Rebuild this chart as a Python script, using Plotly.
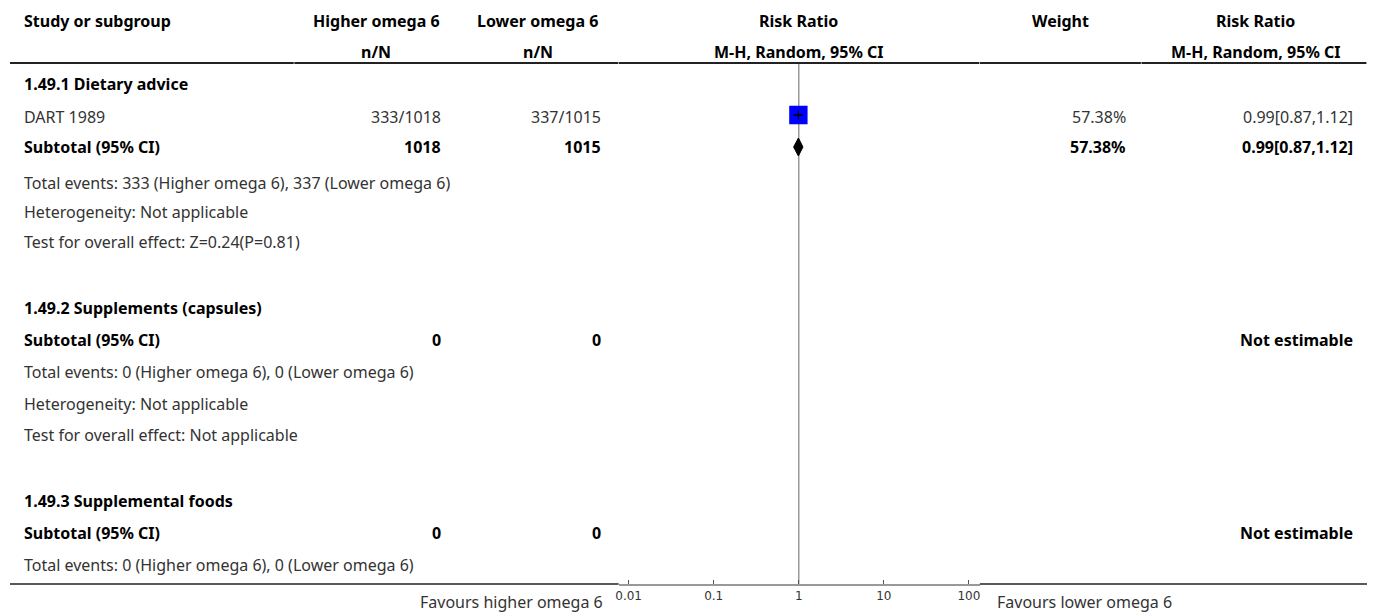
import plotly.graph_objects as go

# ---------------- data ----------------
groups = ["1.49.1 Dietary advice", "1.49.2 Supplements (capsules)", "1.49.3 Supplemental foods"]
study_names = ["DART 1989"]
study_group = [0]
exp_events = [333]
exp_total = [1018]
ctl_events = [337]
ctl_total = [1015]
study_weight = [57.38]
study_rr = [0.99]
study_lo = [0.87]
study_hi = [1.12]

sub_exp_total = [1018, 0, 0]
sub_ctl_total = [1015, 0, 0]
sub_exp_events = [333, 0, 0]
sub_ctl_events = [337, 0, 0]
sub_weight = [57.38, None, None]
sub_rr = [0.99, None, None]
sub_lo = [0.87, None, None]
sub_hi = [1.12, None, None]
heterogeneity = ["Not applicable", "Not applicable", None]
overall_effect = ["Z=0.24(P=0.81)", "Not applicable", None]

tick_vals = [0.01, 0.1, 1, 10, 100]
tick_text = ["0.01", "0.1", "1", "10", "100"]
exp_label = "Higher omega 6"
ctl_label = "Lower omega 6"
favours_left = "Favours higher omega 6"
favours_right = "Favours lower omega 6"

# ---------------- layout constants ----------------
W, H = 1375, 612
FONT = "Noto Sans, sans-serif"
FS = 16
REG = "#333333"
BOLD = "#000000"
row_y = [84, 117, 147, 183, 212, 242, 308, 340, 372, 404, 435, 501, 533, 565]
header_y1, header_y2, header_line = 21, 52, 63
bottom_line = 584
x_study = 20
x_exp_val, x_exp_head = 440, 374
x_ctl_val, x_ctl_head = 600, 536
x_rr_head = 797
x_w_val, x_w_head = 1126, 1060
x_ci_val, x_ci_head = 1354, 1255
plot_l, plot_r = 617, 979
line_l, line_r = 7, 1367
dec_px = 85.25

# build rows
rows = []
for g, gname in enumerate(groups):
    rows.append(("group", g, None))
    for i, sg in enumerate(study_group):
        if sg == g:
            rows.append(("study", g, i))
    rows.append(("subtotal", g, None))
    rows.append(("events", g, None))
    if heterogeneity[g] is not None:
        rows.append(("het", g, None))
    if overall_effect[g] is not None:
        rows.append(("test", g, None))

ann = []


def txt(x, y, s, anchor="left", bold=False, size=FS, color=None):
    ann.append(dict(x=x, y=y, xref="x", yref="y", text=("<b>%s</b>" % s) if bold else s,
                    showarrow=False, xanchor=anchor, yanchor="middle", borderpad=0,
                    font=dict(family=FONT, size=size, color=color or (BOLD if bold else REG))))


# header
txt(x_study, header_y1, "Study or subgroup", bold=True)
txt(x_exp_head, header_y1, exp_label, "center", bold=True)
txt(x_ctl_head, header_y1, ctl_label, "center", bold=True)
txt(x_rr_head, header_y1, "Risk Ratio", "center", bold=True)
txt(x_w_head, header_y1, "Weight", "center", bold=True)
txt(x_ci_head, header_y1, "Risk Ratio", "center", bold=True)
txt(x_exp_head, header_y2, "n/N", "center", bold=True)
txt(x_ctl_head, header_y2, "n/N", "center", bold=True)
txt(x_rr_head, header_y2, "M-H, Random, 95% CI", "center", bold=True)
txt(x_ci_head, header_y2, "M-H, Random, 95% CI", "center", bold=True)

fig = go.Figure()

# line of no effect (drawn first, underneath the marks)
fig.add_trace(go.Scatter(x=[1, 1], y=[header_line + 1, bottom_line], mode="lines",
                         line=dict(color="#999999", width=1.5), xaxis="x2", yaxis="y2",
                         hoverinfo="skip"))

sq_x, sq_y, sq_s, ci_rows = [], [], [], []
for (kind, g, i), y in zip(rows, row_y):
    if kind == "group":
        txt(x_study, y, groups[g], bold=True)
    elif kind == "study":
        txt(x_study, y, study_names[i])
        txt(x_exp_val, y, "%d/%d" % (exp_events[i], exp_total[i]), "right")
        txt(x_ctl_val, y, "%d/%d" % (ctl_events[i], ctl_total[i]), "right")
        txt(x_w_val, y, "%.2f%%" % study_weight[i], "right")
        txt(x_ci_val, y, "%.2f[%.2f,%.2f]" % (study_rr[i], study_lo[i], study_hi[i]), "right")
        sq_x.append(study_rr[i]); sq_y.append(y - 2); sq_s.append(study_weight[i] * 0.32)
        ci_rows.append((i, y - 2))
    elif kind == "subtotal":
        txt(x_study, y, "Subtotal (95% CI)", bold=True)
        txt(x_exp_val, y, "%d" % sub_exp_total[g], "right", bold=True)
        txt(x_ctl_val, y, "%d" % sub_ctl_total[g], "right", bold=True)
        if sub_rr[g] is None:
            txt(x_ci_val, y, "Not estimable", "right", bold=True)
        else:
            txt(x_w_val, y, "%.2f%%" % sub_weight[g], "right", bold=True)
            txt(x_ci_val, y, "%.2f[%.2f,%.2f]" % (sub_rr[g], sub_lo[g], sub_hi[g]), "right", bold=True)
            fig.add_trace(go.Scatter(x=[sub_lo[g], sub_rr[g], sub_hi[g], sub_rr[g], sub_lo[g]],
                                     y=[y, y - 9, y, y + 9, y], mode="lines", fill="toself",
                                     fillcolor="black", line=dict(color="black", width=1),
                                     xaxis="x2", yaxis="y2", hoverinfo="skip"))
    elif kind == "events":
        txt(x_study, y, "Total events: %d (%s), %d (%s)" % (sub_exp_events[g], exp_label,
                                                          sub_ctl_events[g], ctl_label))
    elif kind == "het":
        txt(x_study, y, "Heterogeneity: " + heterogeneity[g])
    elif kind == "test":
        txt(x_study, y, "Test for overall effect: " + overall_effect[g])

# study squares
fig.add_trace(go.Scatter(x=sq_x, y=sq_y, mode="markers", opacity=1,
                         marker=dict(symbol="square", size=sq_s, color="#0000ff", opacity=1,
                                     line=dict(width=0)),
                         xaxis="x2", yaxis="y2", hoverinfo="skip"))
# confidence intervals on top of squares
for i, yy in ci_rows:
    fig.add_trace(go.Scatter(x=[study_lo[i], study_hi[i]], y=[yy, yy], mode="lines",
                             line=dict(color="black", width=1.3), xaxis="x2", yaxis="y2",
                             hoverinfo="skip"))
    fig.add_trace(go.Scatter(x=[study_rr[i], study_rr[i]], y=[yy - 4.5, yy + 4.5], mode="lines",
                             line=dict(color="black", width=1.3), xaxis="x2", yaxis="y2",
                             hoverinfo="skip"))

txt(602, 602, favours_left, "right")
txt(995, 602, favours_right, "left")

# header rule (segmented per column block) and bottom rules
seg_edges = [line_l, 292, plot_l, plot_r, 1141, line_r]
shapes = []
for a, b in zip(seg_edges[:-1], seg_edges[1:]):
    shapes.append(dict(type="line", xref="x", yref="y", x0=a, x1=b - 0.6, y0=header_line,
                       y1=header_line, line=dict(color="#222222", width=2)))
shapes += [
    dict(type="line", xref="x", yref="y", x0=line_l, x1=plot_l, y0=bottom_line, y1=bottom_line,
         line=dict(color="#222222", width=1.5)),
    dict(type="line", xref="x", yref="y", x0=plot_r, x1=line_r, y0=bottom_line, y1=bottom_line,
         line=dict(color="#222222", width=1.5)),
]

lo_log = -2 - 10 / dec_px
hi_log = 2 + 11 / dec_px

fig.update_layout(
    width=W, height=H, margin=dict(l=0, r=0, t=0, b=0),
    paper_bgcolor="white", plot_bgcolor="rgba(0,0,0,0)", showlegend=False,
    annotations=ann, shapes=shapes,
    xaxis=dict(range=[0, W], domain=[0, 1], visible=False, fixedrange=True),
    yaxis=dict(range=[H, 0], domain=[0, 1], visible=False, fixedrange=True),
    xaxis2=dict(type="log", range=[lo_log, hi_log], domain=[plot_l / W, plot_r / W], anchor="y2",
                showline=True, linecolor="#999999", linewidth=1.5, ticks="inside", ticklen=4,
                tickcolor="#555555", tickvals=tick_vals, ticktext=tick_text, showgrid=False,
                zeroline=False, tickfont=dict(family="DejaVu Sans", size=12, color="#333333"),
                fixedrange=True),
    yaxis2=dict(range=[bottom_line, 0], domain=[(H - bottom_line) / H, 1], anchor="x2",
                visible=False, fixedrange=True),
)

fig.write_html("out.html", post_script="document.body.style.margin='0px';",
               config={"displayModeBar": False})
